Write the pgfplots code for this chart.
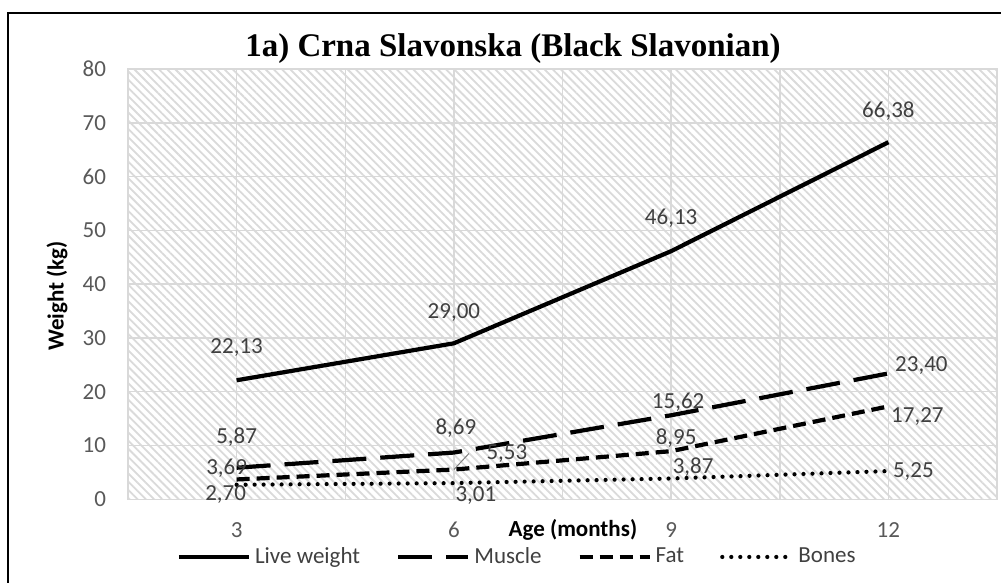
\documentclass[border=0pt]{standalone}
\usepackage{fontspec}
\setmainfont{Carlito}
\newfontfamily\titlefont{Liberation Serif}
\usepackage{pgfplots}
\pgfplotsset{compat=1.18}
\usetikzlibrary{patterns.meta}
\definecolor{tickgray}{RGB}{89,89,89}
\definecolor{labgray}{RGB}{64,64,64}
\definecolor{gridgray}{RGB}{217,217,217}
\definecolor{hatch}{RGB}{218,218,218}
\newcommand{\lf}{\fontsize{11.5}{13}\selectfont}
\begin{document}
\begin{tikzpicture}
\useasboundingbox (0,0) rectangle (500.5pt,291.5pt);
\fill[white] (0,0) rectangle (500.5pt,291.5pt);
\draw[line width=1pt] (4pt,-1pt) -- (4pt,285pt) -- (502pt,285pt);
\node[font=\titlefont\bfseries\fontsize{16.5}{20}\selectfont] at (256.5pt,267pt) {1a) Crna Slavonska (Black Slavonian)};
\begin{axis}[
  at={(64pt,41.85pt)}, anchor=south west, scale only axis,
  width=434.5pt, height=215.15pt,
  xmin=-0.5, xmax=3.5, ymin=0, ymax=80,
  xtick={0,1,2,3}, xticklabels={3,6,9,12},
  minor xtick={-0.5,0.5,1.5,2.5,3.5},
  ytick={0,10,...,80},
  xmajorgrids, xminorgrids, ymajorgrids,
  grid style={gridgray, line width=0.75pt},
  minor grid style={gridgray, line width=0.75pt},
  axis line style={gridgray, line width=0.75pt},
  major tick length=0pt, minor tick length=0pt,
  tick label style={font=\lf, text=tickgray},
  /pgf/number format/assume math mode=true,
  yticklabel style={xshift=-7.5pt},
  xticklabel style={yshift=-8pt},
  axis background/.style={pattern={Lines[angle=-45,distance=2.9pt,line width=0.9pt]}, pattern color=hatch},
  clip=false,
  xlabel={Age (months)}, ylabel={Weight (kg)},
  label style={font=\lf\bfseries, text=black},
  xlabel style={at={(axis description cs:0.512,-0.0713)}, anchor=center},
  ylabel style={at={(axis description cs:-0.0817,0.4725)}, anchor=center},
  legend style={at={(axis description cs:0.449,-0.134)}, anchor=center, draw=none, fill=none,
    font=\lf, text=labgray, /tikz/every even column/.append style={column sep=16pt}},
  legend columns=4,
  legend image code/.code={\draw[#1] (0pt,0pt) -- (35pt,0pt);},
]
\addplot[black, line width=2.1pt, line join=round] coordinates {(0,22.13)(1,29.00)(2,46.13)(3,66.38)};
\addlegendentry{Live weight}
\addplot[black, line width=2.1pt, dash pattern=on 17pt off 7pt] coordinates {(0,5.87)(1,8.69)(2,15.62)(3,23.40)};
\addlegendentry{Muscle}
\addplot[black, line width=2.1pt, dash pattern=on 6.5pt off 3.5pt] coordinates {(0,3.69)(1,5.53)(2,8.95)(3,17.27)};
\addlegendentry{Fat}
\addplot[black, line width=2.1pt, line cap=round, dash pattern=on 0pt off 4.5pt] coordinates {(0,2.70)(1,3.01)(2,3.87)(3,5.25)};
\addlegendentry{Bones}
\begin{scope}[every node/.style={font=\lf, text=labgray}]
\node[yshift=16.5pt] at (axis cs:0,22.13) {22,13};
\node[yshift=15.5pt] at (axis cs:1,29.00) {29,00};
\node[yshift=16.5pt] at (axis cs:2,46.13) {46,13};
\node[yshift=15.5pt] at (axis cs:3,66.38) {66,38};
\node[yshift=15.3pt] at (axis cs:0,5.87) {5,87};
\node[xshift=1pt,yshift=12.2pt] at (axis cs:1,8.69) {8,69};
\node[xshift=3.5pt,yshift=6.6pt] at (axis cs:2,15.62) {15,62};
\node[xshift=16.5pt,yshift=4pt] at (axis cs:3,23.40) {23,40};
\node[xshift=-5pt,yshift=5.5pt] at (axis cs:0,3.69) {3,69};
\node[xshift=26.5pt,yshift=7.8pt] at (axis cs:1,5.53) {5,53};
\node[xshift=2.5pt,yshift=6.5pt] at (axis cs:2,8.95) {8,95};
\node[xshift=14.5pt,yshift=-5.3pt] at (axis cs:3,17.27) {17,27};
\node[xshift=-5.5pt,yshift=-5pt] at (axis cs:0,2.70) {2,70};
\node[xshift=11pt,yshift=-6pt] at (axis cs:1,3.01) {3,01};
\node[xshift=11pt,yshift=5.7pt] at (axis cs:2,3.87) {3,87};
\node[xshift=12.5pt] at (axis cs:3,5.25) {5,25};
\end{scope}
\draw[gray, line width=0.5pt] (axis cs:1,5.53) -- ++(7.5pt,8pt);
\end{axis}
\end{tikzpicture}
\end{document}
